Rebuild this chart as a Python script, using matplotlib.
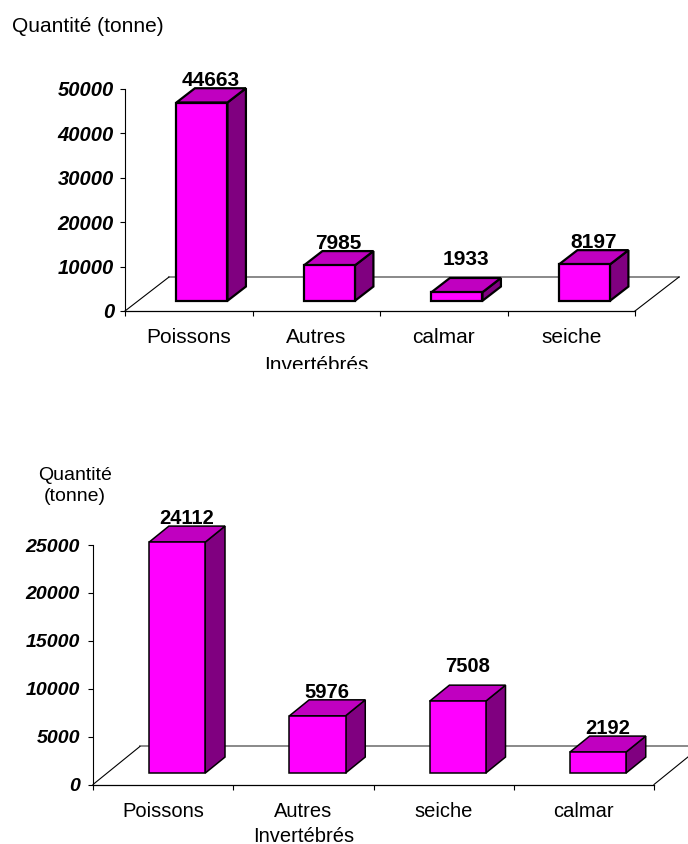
import matplotlib
matplotlib.use("Agg")
import matplotlib.pyplot as plt
from matplotlib.patches import Polygon, Rectangle

plt.rcParams['font.family'] = ['Liberation Sans', 'DejaVu Sans']

# data
top_categories = ['Poissons', 'Autres\nInvertébrés', 'calmar', 'seiche']
top_values = [44663, 7985, 1933, 8197]
top_yticks = [0, 10000, 20000, 30000, 40000, 50000]

bottom_categories = ['Poissons', 'Autres\nInvertébrés', 'seiche', 'calmar']
bottom_values = [24112, 5976, 7508, 2192]
bottom_yticks = [0, 5000, 10000, 15000, 20000, 25000]

W, H = 688, 844
fig = plt.figure(figsize=(W / 100, H / 100), dpi=100)

FRONT = '#FF00FF'
TOP = '#C000C0'
SIDE = '#800080'


def make_axes(left, right, y0, ytop):
    return fig.add_axes([left / W, 1 - y0 / H, (right - left) / W, (y0 - ytop) / H])


def draw_chart(ax, cats, vals, yticks, depth_x, depth_y, fs, tick_fs, edge_lw,
               tick_pad, linespacing, label_nudge):
    n = len(cats)
    ax.set_xlim(-0.5, n - 0.5)
    ax.set_ylim(0, yticks[-1])

    # floor
    x0, x1 = -0.5, n - 0.5
    ax.plot([x0 + depth_x, x1 + depth_x], [depth_y, depth_y], color='#808080', lw=1.3,
            clip_on=False, zorder=1)
    ax.plot([x0, x0 + depth_x], [0, depth_y], color='black', lw=0.8, clip_on=False, zorder=1)
    ax.plot([x1, x1 + depth_x], [0, depth_y], color='black', lw=0.8, clip_on=False, zorder=1)

    # 3d bars
    w = 0.4
    d0, d1 = 0.3, 0.72
    for i, v in enumerate(vals):
        xl = i - w / 2 + d0 * depth_x
        xr = xl + w
        yb = d0 * depth_y
        yt = v + yb
        ox = (d1 - d0) * depth_x
        oy = (d1 - d0) * depth_y
        front = [(xl, yb), (xr, yb), (xr, yt), (xl, yt)]
        top = [(xl, yt), (xr, yt), (xr + ox, yt + oy), (xl + ox, yt + oy)]
        side = [(xr, yb), (xr + ox, yb + oy), (xr + ox, yt + oy), (xr, yt)]
        for pts, c in ((side, SIDE), (top, TOP), (front, FRONT)):
            ax.add_patch(Polygon(pts, closed=True, facecolor=c, edgecolor='black',
                                 lw=edge_lw, joinstyle='miter', clip_on=False, zorder=3))
        ax.annotate(str(v), xy=(i + (d0 + d1) / 2 * depth_x, v + d1 * depth_y),
                    xytext=(0, 1.5 + label_nudge[i]), textcoords='offset points',
                    ha='center', va='baseline', fontsize=fs, fontweight='bold',
                    annotation_clip=False, zorder=4)

    # axes look
    for s in ('top', 'right'):
        ax.spines[s].set_visible(False)
    ax.spines['left'].set_linewidth(0.8)
    ax.spines['bottom'].set_linewidth(0.9)
    ax.set_yticks(yticks)
    ax.set_yticklabels([str(t) for t in yticks], fontsize=tick_fs, fontweight='bold',
                       fontstyle='italic')
    ax.tick_params(axis='y', direction='out', length=3.6, width=0.8, pad=tick_pad)
    ax.set_xticks([k - 0.5 for k in range(n + 1)])
    ax.set_xticklabels([])
    ax.tick_params(axis='x', direction='out', length=3.6, width=0.8)

    for i, c in enumerate(cats):
        ax.annotate(c, xy=(i, 0), xytext=(0, -12.5), textcoords='offset points',
                    ha='center', va='top', multialignment='center', fontsize=fs,
                    linespacing=linespacing, annotation_clip=False)


ax1 = make_axes(125, 635, 311, 89)
draw_chart(ax1, top_categories, top_values, top_yticks, 0.345, 7650,
           15, 14.5, 1.6, 4.3, 1.56, [0, 0, 8, 0])

ax2 = make_axes(93, 654, 784.5, 545)
draw_chart(ax2, bottom_categories, bottom_values, bottom_yticks, 0.335, 3975,
           14.5, 14, 1.1, 5.8, 1.38, [0, 0, 8, 0])

# the first chart cuts its second label line, as in the source
fig.add_artist(Rectangle((200 / W, 1 - 392 / H), 250 / W, 23 / H, transform=fig.transFigure,
                         facecolor='white', edgecolor='none', zorder=10))

fig.text(12 / W, 1 - 32 / H, 'Quantité (tonne)', fontsize=15, ha='left', va='baseline')
fig.text(75 / W, 1 - 467 / H, 'Quantité\n(tonne)', fontsize=14, ha='center', va='top',
         multialignment='center', linespacing=1.27)

fig.savefig('out.png', dpi=100)
